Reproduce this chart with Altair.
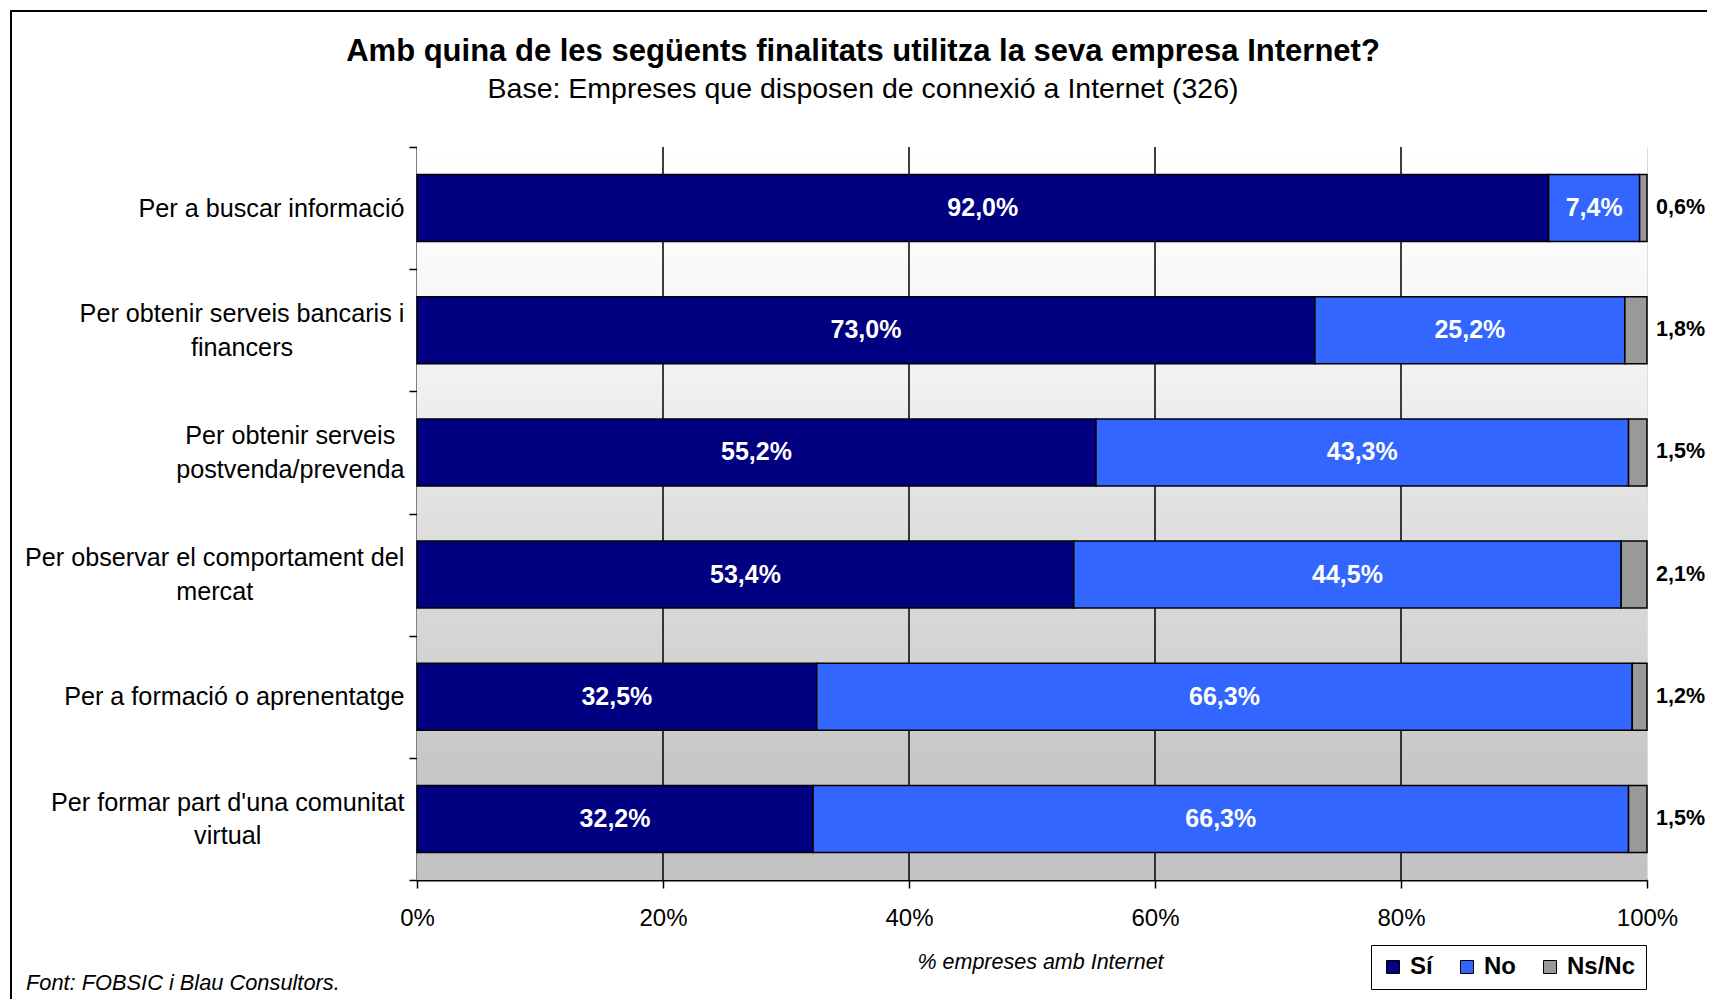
import json
import altair as alt
import pandas as pd

# ---------------- data ----------------
categories = [
    "Per a buscar informació",
    "Per obtenir serveis bancaris i\nfinancers",
    "Per obtenir serveis\npostvenda/prevenda",
    "Per observar el comportament del\nmercat",
    "Per a formació o aprenentatge",
    "Per formar part d'una comunitat\nvirtual",
]
series = ["Sí", "No", "Ns/Nc"]
si_values = [92.0, 73.0, 55.2, 53.4, 32.5, 32.2]
no_values = [7.4, 25.2, 43.3, 44.5, 66.3, 66.3]
nsnc_values = [0.6, 1.8, 1.5, 2.1, 1.2, 1.5]
colors = ["#000080", "#3366FF", "#999999"]
x_ticks = [0, 20, 40, 60, 80, 100]
grid_values = [20, 40, 60, 80]
title_text = "Amb quina de les següents finalitats utilitza la seva empresa Internet?"
subtitle_text = "Base: Empreses que disposen de connexió a Internet (326)"
x_title = "% empreses amb Internet"
source_text = "Font: FOBSIC i Blau Consultors."

rows = []
for i, c in enumerate(categories):
    for k, (s, vals) in enumerate(zip(series, [si_values, no_values, nsnc_values])):
        rows.append({"cat": c, "serie": s, "value": vals[i], "ord": k})
df = pd.DataFrame(rows)

FONT = "Liberation Sans"
YLABEL_SIZE = 25.2
LABEL_SIZE = 24
LINE_H = 33.5

# Arial / Liberation Sans advance widths (1/1000 em) to centre multi-line labels
ARIAL = {' ': 278, 'P': 667, 'a': 556, 'b': 556, 'c': 500, 'd': 556, 'e': 556,
         'f': 278, 'g': 556, 'i': 222, 'l': 222, 'm': 833, 'n': 556, 'o': 556,
         'p': 556, 'r': 333, 's': 500, 't': 278, 'u': 556, 'v': 500, 'ó': 556,
         '/': 278, "'": 191}


def text_w(s):
    return sum(ARIAL.get(ch, 556) for ch in s) * YLABEL_SIZE / 1000.0


BASE_PAD = 5
pad_conditions = []
off_conditions = []
for c in categories:
    lines = c.split("\n")
    w = max(text_w(line) for line in lines)
    test = f"datum.value === {json.dumps(c)}"
    pad_conditions.append({"test": test, "value": round(BASE_PAD + w / 2.0, 1)})
    if len(lines) > 1:
        off_conditions.append({"test": test, "value": -LINE_H * (len(lines) - 1) / 2.0})
label_padding = {"condition": pad_conditions, "value": BASE_PAD}
label_offset = {"condition": off_conditions, "value": 0}

W, H = 1230, 733
BAR_SIZE = 67

pct_expr = "replace(format(datum.value, '.1f'), '.', ',') + '%'"

y_enc = alt.Y(
    "cat:N",
    sort=categories,
    scale=alt.Scale(paddingInner=0, paddingOuter=0),
    axis=alt.Axis(
        title=None,
        labelExpr="split(datum.label, '\\n')",
        labelFontSize=YLABEL_SIZE,
        labelColor="black",
        labelFont=FONT,
        labelAlign="center",
        labelBaseline="middle",
        labelLineHeight=LINE_H,
        labelPadding=label_padding,
        labelOffset=label_offset,
        labelLimit=0,
        tickBand="extent",
        tickSize=8,
        tickColor="black",
        tickWidth=1.5,
        domainColor="black",
        domainWidth=2,
        grid=False,
    ),
)

x_scale = alt.Scale(domain=[0, 100], nice=False)

base = alt.Chart(df).transform_stack(
    stack="value", groupby=["cat"], as_=["x0", "x1"],
    sort=[alt.SortField("ord", order="ascending")],
).transform_calculate(mid="(datum.x0 + datum.x1) / 2")

bars = base.mark_bar(stroke="black", strokeWidth=1.5, size=BAR_SIZE).encode(
    x=alt.X(
        "x0:Q",
        scale=x_scale,
        axis=alt.Axis(
            values=x_ticks,
            labelExpr="datum.value + '%'",
            labelFontSize=LABEL_SIZE,
            labelFont=FONT,
            labelColor="black",
            labelPadding=18,
            labelFlush=False,
            tickSize=8,
            tickColor="black",
            tickWidth=1.5,
            domainColor="black",
            domainWidth=2,
            grid=False,
            title=x_title,
            titleFont=FONT,
            titleFontSize=21.5,
            titleFontStyle="italic",
            titleFontWeight="normal",
            titleColor="black",
            titleX=623,
            titleY=88,
            titleAlign="center",
            titleBaseline="alphabetic",
        ),
    ),
    x2="x1:Q",
    y=y_enc,
    color=alt.Color(
        "serie:N",
        scale=alt.Scale(domain=series, range=colors),
        legend=alt.Legend(
            title=None,
            orient="none",
            legendX=954,
            legendY=798,
            direction="horizontal",
            symbolType="square",
            symbolSize=169,
            symbolStrokeColor="black",
            symbolStrokeWidth=1,
            symbolOpacity=1,
            labelFontSize=LABEL_SIZE,
            labelFontWeight="bold",
            labelFont=FONT,
            labelColor="black",
            labelOffset=5,
            columnPadding=22,
            padding=10,
            strokeColor="black",
            fillColor="white",
        ),
    ),
)

inner_text = base.transform_filter("datum.serie !== 'Ns/Nc'").transform_calculate(
    lbl=pct_expr
).mark_text(
    color="white", fontSize=25, fontWeight="bold", font=FONT,
    align="center", baseline="middle",
).encode(x=alt.X("mid:Q", scale=x_scale), y=alt.Y("cat:N", sort=categories), text="lbl:N")

right_text = alt.Chart(df).transform_filter("datum.serie === 'Ns/Nc'").transform_calculate(
    lbl=pct_expr
).mark_text(
    color="black", fontSize=21.5, fontWeight="bold", font=FONT,
    align="left", baseline="middle", dx=9,
).encode(x=alt.datum(100), y=alt.Y("cat:N", sort=categories), text="lbl:N")

# gradient background of plot area
grad = alt.Gradient(
    gradient="linear", x1=0, x2=0, y1=0, y2=1,
    stops=[
        alt.GradientStop(color="#ffffff", offset=0),
        alt.GradientStop(color="#fafafa", offset=0.15),
        alt.GradientStop(color="#f0f0f0", offset=0.33),
        alt.GradientStop(color="#e0e0e0", offset=0.5),
        alt.GradientStop(color="#d5d5d5", offset=0.67),
        alt.GradientStop(color="#c8c8c8", offset=0.83),
        alt.GradientStop(color="#c2c2c2", offset=1),
    ],
)
one = pd.DataFrame({"k": [0]})
bg = alt.Chart(one).mark_rect(fill=grad, strokeWidth=0).encode(
    x=alt.datum(0), x2=alt.datum(100)
)

grid = alt.Chart(pd.DataFrame({"g": grid_values})).mark_rule(
    color="black", strokeWidth=1.5
).encode(x=alt.X("g:Q", scale=x_scale))

title_mark = alt.Chart(pd.DataFrame({"t": [title_text]})).mark_text(
    font=FONT, fontSize=31, fontWeight="bold", color="black",
    align="center", baseline="alphabetic",
).encode(x=alt.value(446), y=alt.value(-86), text="t:N")

subtitle_mark = alt.Chart(pd.DataFrame({"t": [subtitle_text]})).mark_text(
    font=FONT, fontSize=28.5, color="black",
    align="center", baseline="alphabetic",
).encode(x=alt.value(446), y=alt.value(-49), text="t:N")

source = alt.Chart(pd.DataFrame({"t": [source_text]})).mark_text(
    font=FONT, fontSize=21.8, fontStyle="italic", color="black",
    align="left", baseline="alphabetic",
).encode(x=alt.value(-391), y=alt.value(843), text="t:N")

frame_left = alt.Chart(one).mark_rule(color="black", strokeWidth=2).encode(
    x=alt.value(-406), y=alt.value(-137), y2=alt.value(900)
)
frame_top = alt.Chart(one).mark_rule(color="black", strokeWidth=2).encode(
    x=alt.value(-407), x2=alt.value(1400), y=alt.value(-136)
)

chart = alt.layer(
    bg, grid, bars, inner_text, right_text, title_mark, subtitle_mark,
    source, frame_left, frame_top
).properties(
    width=W,
    height=H,
    autosize=alt.AutoSizeParams(type="none"),
    padding={"left": 409, "top": 139, "right": 60, "bottom": 119},
).configure_view(
    stroke="black", strokeWidth=2
).configure(background="white")

chart.save("out.html", embed_options={"renderer": "svg", "actions": False})
